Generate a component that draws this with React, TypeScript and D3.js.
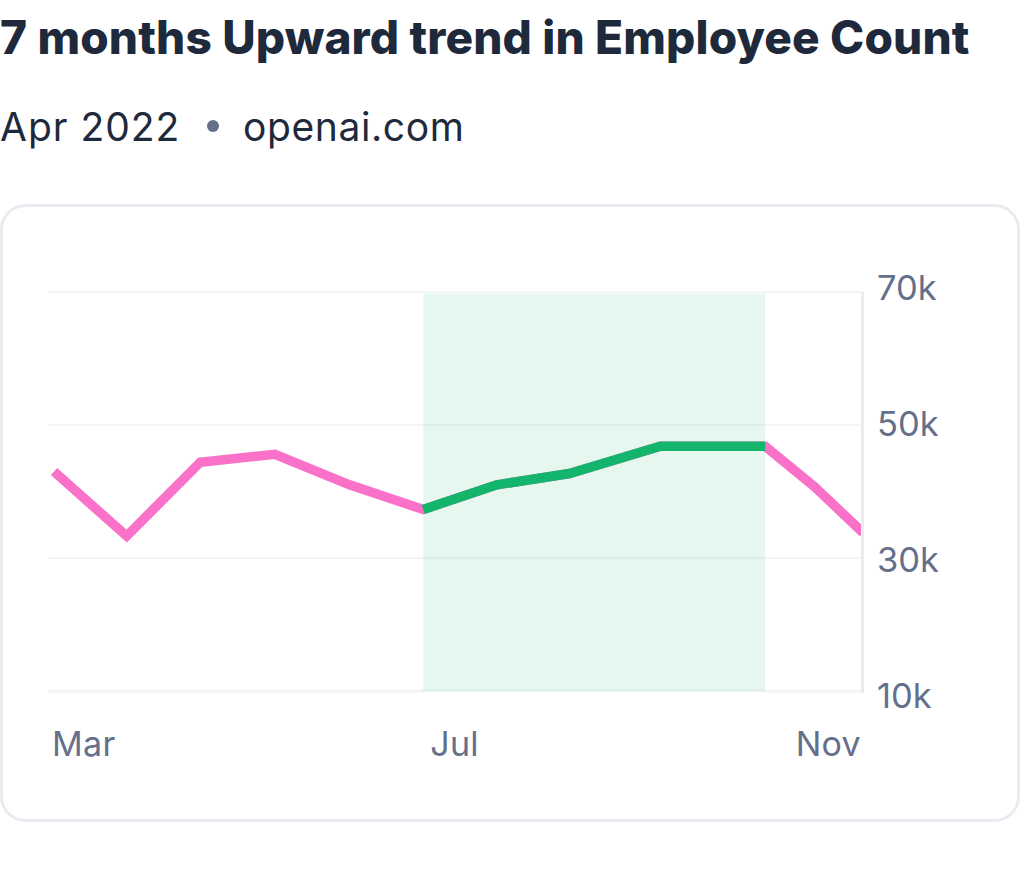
import * as d3 from "d3";

const WIDTH = 1020;
const HEIGHT = 870;

// position along the axis in months since Mar, employees in thousands
const months = [0, 0.72, 1.45, 2.19, 2.93, 3.66, 4.39, 5.11, 6.01, 7.05, 7.54, 8.02];
const employees = [43.0, 33.3, 44.4, 45.6, 41.0, 37.3, 41.0, 42.7, 46.8, 46.8, 40.7, 33.8];
const trendStart = 3.66;
const trendEnd = 7.05;

const yTicks = [70, 50, 30, 10];
const monthLabels = ["Mar", "Jul", "Nov"];
const monthLabelPos = [0, 4, 8];

const FONT = "Inter, 'Noto Sans', sans-serif";
const INK = "#1e293b";
const MUTED = "#64708a";
const GRID = "#f3f4f7";
const BORDER = "#e9ebf0";

export default function App() {
  const x = d3.scaleLinear().domain([0, 8]).range([54, 861]);
  const y = d3.scaleLinear().domain([10, 70]).range([691, 292]);
  // the tick labels sit slightly wider apart than the grid lines
  const yLabel = d3.scaleLinear().domain([10, 70]).range([708, 300]);

  const points = months.map((m, i) => ({ m, v: employees[i] }));
  const line = d3
    .line<{ m: number; v: number }>()
    .x((d) => x(d.m))
    .y((d) => y(d.v));
  const trend = points.filter((d) => d.m >= trendStart && d.m <= trendEnd);

  return (
    <svg
      width={WIDTH}
      height={HEIGHT}
      style={{ position: "absolute", left: 0, top: 0, fontFamily: FONT }}
    >
      <defs>
        <clipPath id="plot">
          <rect x={0} y={y(70)} width={x(8)} height={y(10) - y(70)} />
        </clipPath>
      </defs>
      <rect width={WIDTH} height={HEIGHT} fill="#fff" />
      <text x={0} y={54} fontSize={46} fontWeight={800} letterSpacing={0.15} fill={INK}>
        7 months Upward trend in Employee Count
      </text>
      <text x={0} y={141} fontSize={39} letterSpacing={1} fill={INK}>
        Apr 2022
      </text>
      <circle cx={213} cy={126} r={6} fill={MUTED} />
      <text x={243} y={141} fontSize={39} letterSpacing={0.6} fill={INK}>
        openai.com
      </text>

      <rect x={1.5} y={205.5} width={1017} height={615} rx={24} fill="#fff" stroke={BORDER} strokeWidth={3} />

      {yTicks.map((t) => (
        <g key={t}>
          <line x1={48} x2={863} y1={y(t)} y2={y(t)} stroke={GRID} strokeWidth={t === 10 ? 3 : 2} />
          <text x={877} y={yLabel(t)} fontSize={34.5} fill={MUTED}>
            {t}k
          </text>
        </g>
      ))}
      <line x1={862.5} x2={862.5} y1={y(70)} y2={y(10) + 2} stroke={BORDER} strokeWidth={3} />

      <rect
        x={x(trendStart)}
        y={y(70) + 1.5}
        width={x(trendEnd) - x(trendStart)}
        height={y(10) - y(70) - 1.5}
        fill="#12b76a"
        opacity={0.11}
      />

      <g clipPath="url(#plot)">
        <path d={line(points) ?? ""} fill="none" stroke="#f971c8" strokeWidth={9.5} />
        <path d={line(trend) ?? ""} fill="none" stroke="#13b56c" strokeWidth={9.5} />
      </g>

      {monthLabels.map((label, i) => (
        <text
          key={label}
          x={i === 0 ? x(monthLabelPos[i]) - 2 : i === 2 ? x(monthLabelPos[i]) : x(monthLabelPos[i]) - 3}
          y={756}
          fontSize={34}
          letterSpacing={0.3}
          fill={MUTED}
          textAnchor={i === 0 ? "start" : i === 2 ? "end" : "middle"}
        >
          {label}
        </text>
      ))}
    </svg>
  );
}
